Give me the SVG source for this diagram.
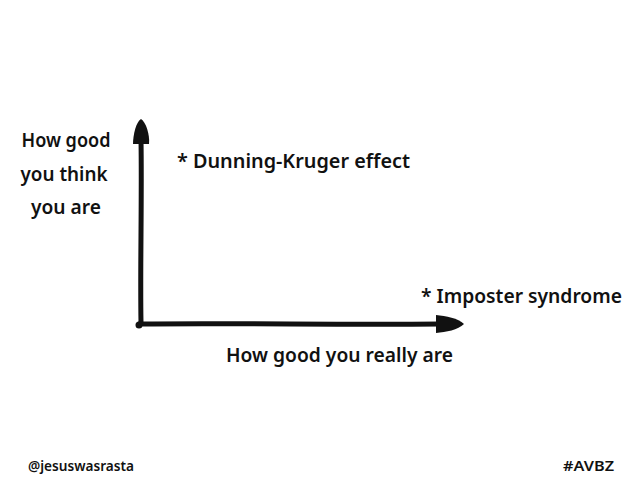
<svg xmlns="http://www.w3.org/2000/svg" width="638" height="479" viewBox="0 0 638 479">
<style>
text{font-family:"Noto Sans","Liberation Sans",sans-serif;font-weight:600;fill:#111}
.lbl{font-size:19px}
.small{font-size:14px}
.axis{stroke:#111;stroke-width:5;stroke-linecap:round;fill:none}
.head{fill:#111}
</style>
<rect width="638" height="479" fill="#fff"/>
<g id="connectors">
<path class="axis" d="M141,322 C140,270 142,200 141,140"/>
<path class="head" d="M141,119 C136,122 133,135 133,144 L149,144 C150,135 146,122 141,119 Z"/>
<path class="axis" d="M139,324 C240,323 340,325 440,324"/>
<path class="head" d="M464,324 C458,318 446,316 436,315 L436,333 C446,332 458,330 464,324 Z"/>
<circle cx="139" cy="325" r="3.5" fill="#111"/>
</g>
<g id="y-label">
<text class="lbl" x="66" y="147" text-anchor="middle" textLength="89" lengthAdjust="spacingAndGlyphs">How good</text>
<text class="lbl" x="64" y="181" text-anchor="middle" textLength="87" lengthAdjust="spacingAndGlyphs">you think</text>
<text class="lbl" x="66" y="214" text-anchor="middle" textLength="70" lengthAdjust="spacingAndGlyphs">you are</text>
</g>
<g id="dunning-kruger">
<text class="lbl" x="177" y="168" textLength="233" lengthAdjust="spacingAndGlyphs">* Dunning-Kruger effect</text>
</g>
<g id="imposter">
<text class="lbl" x="421" y="303" textLength="201" lengthAdjust="spacingAndGlyphs">* Imposter syndrome</text>
</g>
<g id="x-label">
<text class="lbl" x="226" y="362" textLength="227" lengthAdjust="spacingAndGlyphs">How good you really are</text>
</g>
<g id="footer">
<text class="small" x="28" y="471" textLength="106" lengthAdjust="spacingAndGlyphs">@jesuswasrasta</text>
<text class="small" x="563" y="471" textLength="51" lengthAdjust="spacingAndGlyphs">#AVBZ</text>
</g>
</svg>
